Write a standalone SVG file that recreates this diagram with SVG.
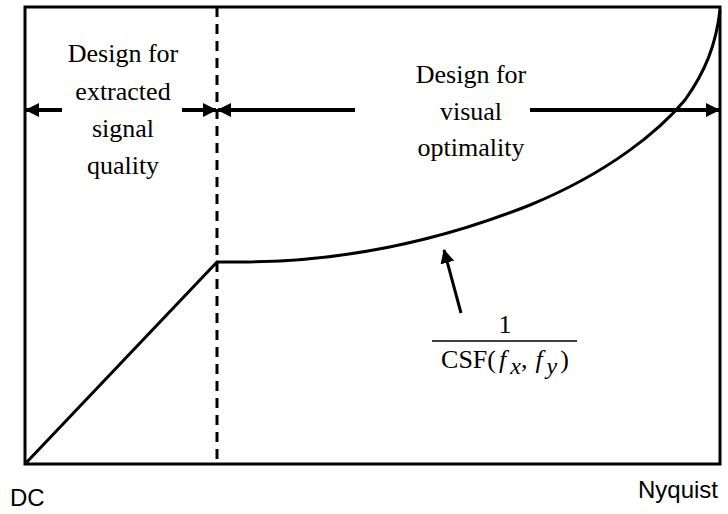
<svg xmlns="http://www.w3.org/2000/svg" width="728" height="514" viewBox="0 0 728 514">
<defs>
<marker id="ah2" markerWidth="14" markerHeight="14" refX="13" refY="7" orient="auto" markerUnits="userSpaceOnUse" viewBox="0 0 14 14">
<path d="M0,0 L14,7 L0,14 z" fill="#000"/>
</marker>
</defs>
<style>
.t{font-family:"Liberation Serif","Times New Roman",serif;font-size:26px;fill:#000;text-anchor:middle}
.s{font-family:"Liberation Sans",Arial,sans-serif;font-size:24px;fill:#000}
.ln{stroke:#000;fill:none}
</style>
<rect id="frame" x="25" y="7" width="695" height="457" fill="#fff" stroke="#000" stroke-width="3"/>
<g id="connectors">
<line class="ln" x1="217" y1="7" x2="217" y2="464" stroke-width="3" stroke-dasharray="10,7"/>
<line class="ln" x1="62" y1="110" x2="26" y2="110" stroke-width="4" marker-end="url(#ah2)"/>
<line class="ln" x1="182" y1="110" x2="216" y2="110" stroke-width="4" marker-end="url(#ah2)"/>
<line class="ln" x1="355" y1="110" x2="218" y2="110" stroke-width="4" marker-end="url(#ah2)"/>
<line class="ln" x1="530" y1="110" x2="719" y2="110" stroke-width="4" marker-end="url(#ah2)"/>
<path id="curve" class="ln" stroke-width="3" d="M25,464 L217,262 L240,262 C330,262 430,245 530,205 C610,172 660,130 685,100 C705,72 716,45 720,10"/>
<line class="ln" x1="461" y1="313" x2="444" y2="250" stroke-width="3" marker-end="url(#ah2)"/>
</g>
<g id="left-label">
<text class="t" x="123" y="62">Design for</text>
<text class="t" x="123" y="100">extracted</text>
<text class="t" x="123" y="137">signal</text>
<text class="t" x="123" y="174">quality</text>
</g>
<g id="right-label">
<text class="t" x="471" y="83">Design for</text>
<text class="t" x="471" y="120">visual</text>
<text class="t" x="471" y="156">optimality</text>
</g>
<g id="formula">
<text class="t" x="505" y="333">1</text>
<line x1="432" y1="341" x2="577" y2="341" stroke="#000" stroke-width="1.5"/>
<text class="t" x="505" y="368">CSF(<tspan font-style="italic" dx="3">f</tspan><tspan font-style="italic" font-size="24" dx="4" dy="6">x</tspan><tspan dy="-6">,</tspan><tspan font-style="italic" dx="8">f</tspan><tspan font-style="italic" font-size="24" dx="4" dy="6">y</tspan><tspan dx="3" dy="-6">)</tspan></text>
</g>
<g id="axis-labels">
<text class="s" x="10" y="506">DC</text>
<text class="s" x="638" y="498">Nyquist</text>
</g>
</svg>
